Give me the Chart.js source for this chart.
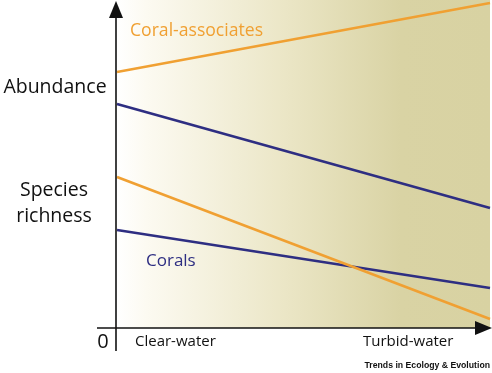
<!DOCTYPE html>
<html>
<head>
<meta charset="utf-8">
<script src="https://cdn.jsdelivr.net/npm/chart.js@4"></script>
<style>
  html, body { margin: 0; padding: 0; background: #fff; }
  #wrap { width: 492px; height: 373px; }
</style>
</head>
<body>
<div id="wrap"><canvas id="myChart" width="492" height="373"></canvas></div>
<script>
// turbidity gradient: 0 = clear-water, 1 = turbid-water
var gradientX = [0, 1];
// conceptual levels (arbitrary units, 0 at the x axis)
var assocAbundance = [256, 325];
var coralAbundance = [224, 120];
var assocRichness = [151, 9];
var coralRichness = [98, 40];

var xLabels = ['Clear-water', 'Turbid-water'];
var yLabels = ['Abundance', 'Species', 'richness'];

var orange = 'rgb(240, 160, 50)';
var blue = 'rgb(46, 46, 130)';

function toPoints(vals) {
    return gradientX.map(function (x, i) { return { x: x, y: vals[i] }; });
}

// background gradient + axes + text labels
var decor = {
    id: 'decor',
    beforeDatasetsDraw: function (chart) {
        var ctx = chart.ctx;
        var a = chart.chartArea;
        var g = ctx.createLinearGradient(a.left, 0, a.right, 0);
        g.addColorStop(0, '#ffffff');
        g.addColorStop(0.08, '#fcfaf1');
        g.addColorStop(0.45, '#ebe6c6');
        g.addColorStop(0.76, '#d9d3a4');
        g.addColorStop(1, '#d8d2a2');
        ctx.save();
        ctx.fillStyle = g;
        ctx.fillRect(a.left, a.top, a.right - a.left, a.bottom - a.top);
        ctx.restore();
    },
    afterDraw: function (chart) {
        var ctx = chart.ctx;
        var a = chart.chartArea;
        ctx.save();
        ctx.strokeStyle = '#111';
        ctx.fillStyle = '#111';
        ctx.lineWidth = 1.6;
        // y axis
        ctx.beginPath();
        ctx.moveTo(a.left - 1, 14);
        ctx.lineTo(a.left - 1, 351);
        ctx.stroke();
        ctx.beginPath();
        ctx.moveTo(a.left - 1, 1);
        ctx.lineTo(a.left - 8, 18);
        ctx.lineTo(a.left + 6, 18);
        ctx.closePath();
        ctx.fill();
        // x axis
        ctx.beginPath();
        ctx.moveTo(97, a.bottom);
        ctx.lineTo(478, a.bottom);
        ctx.stroke();
        ctx.beginPath();
        ctx.moveTo(492, a.bottom);
        ctx.lineTo(475, a.bottom - 7);
        ctx.lineTo(475, a.bottom + 7);
        ctx.closePath();
        ctx.fill();

        ctx.textBaseline = 'middle';
        ctx.font = '19.5px "Open Sans", sans-serif';
        ctx.fillStyle = '#111';
        ctx.textAlign = 'center';
        ctx.fillText(yLabels[0], 55, 87);
        ctx.fillText(yLabels[1], 54, 190);
        ctx.fillText(yLabels[2], 54, 216);
        ctx.font = '20px "Open Sans", sans-serif';
        ctx.fillText('0', 103, 342);

        ctx.font = '15px "Open Sans", sans-serif';
        ctx.textAlign = 'left';
        ctx.fillText(xLabels[0], 135, 342);
        ctx.fillText(xLabels[1], 363, 342);

        ctx.font = '17.6px "Open Sans", sans-serif';
        ctx.fillStyle = orange;
        ctx.fillText('Coral-associates', 130, 31);
        ctx.font = '17px "Open Sans", sans-serif';
        ctx.fillStyle = blue;
        ctx.fillText('Corals', 146, 261);

        ctx.font = 'bold 8.7px "Liberation Sans Narrow", "Liberation Sans", sans-serif';
        ctx.fillStyle = '#111';
        ctx.textAlign = 'right';
        ctx.fillText('Trends in Ecology & Evolution', 490, 366);
        ctx.restore();
    }
};

var ctx = document.getElementById('myChart').getContext('2d');
var myChart = new Chart(ctx, {
    type: 'line',
    data: {
        datasets: [
            { label: 'Coral-associates abundance', data: toPoints(assocAbundance), borderColor: orange },
            { label: 'Corals abundance', data: toPoints(coralAbundance), borderColor: blue },
            { label: 'Coral-associates richness', data: toPoints(assocRichness), borderColor: orange },
            { label: 'Corals richness', data: toPoints(coralRichness), borderColor: blue }
        ]
    },
    options: {
        responsive: false,
        animation: false,
        layout: { padding: { left: 117, right: 2, top: 0, bottom: 45 } },
        elements: {
            line: { borderWidth: 2.6, tension: 0 },
            point: { radius: 0 }
        },
        datasets: { line: { clip: false } },
        plugins: { legend: { display: false }, tooltip: { enabled: false } },
        scales: {
            x: { type: 'linear', min: 0, max: 1, display: false },
            y: { min: 0, max: 328, display: false }
        }
    },
    plugins: [decor]
});
</script>
</body>
</html>
